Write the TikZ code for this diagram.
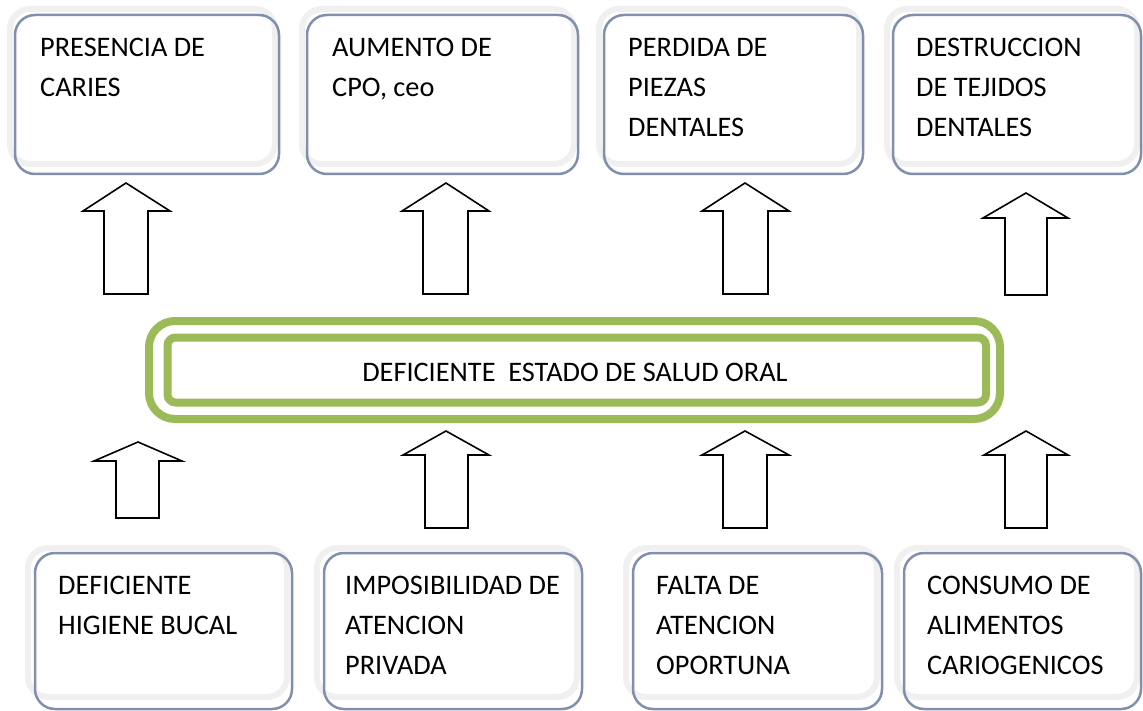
\documentclass[tikz,border=0pt]{standalone}
\usepackage{fontspec}
\setmainfont{Carlito}
\definecolor{boxgray}{HTML}{F0F0F0}
\definecolor{boxblue}{HTML}{8090AC}
\definecolor{olivegreen}{HTML}{9BBB59}

\begin{document}
\begin{tikzpicture}[x=1pt,y=-1pt,
  cardframe/.style={draw=boxgray,fill=white,line width=6pt,rounded corners=20pt},
  cardshadow/.style={draw=boxblue,line width=2.5pt,rounded corners=20pt},
  boxtext/.style={anchor=base west,align=left,inner sep=0pt,font=\fontsize{28.3}{40}\selectfont},
  blockarrow/.style={draw=black,fill=white,line width=1.6pt,line join=miter}]
\useasboundingbox (0,0) rectangle (1143,711);
\filldraw[cardframe] (10,9) rectangle (275,164);
\draw[cardshadow] (15,15) rectangle (279,174);
\filldraw[cardframe] (302,9) rectangle (574,164);
\draw[cardshadow] (307,15) rectangle (578,174);
\filldraw[cardframe] (599,9) rectangle (859,164);
\draw[cardshadow] (604,15) rectangle (863,174);
\filldraw[cardframe] (887,9) rectangle (1137,164);
\draw[cardshadow] (893,15) rectangle (1141,174);
\node[boxtext] (caries) at (40,97) {PRESENCIA DE\\CARIES};
\node[boxtext] (cpo) at (332,97) {AUMENTO DE\\CPO, ceo};
\node[boxtext] (perdida) at (628,137) {PERDIDA DE\\PIEZAS\\DENTALES};
\node[boxtext] (tejidos) at (916,137) {DESTRUCCION\\DE TEJIDOS\\DENTALES};
\draw[blockarrow] (104,294) -- (104,211) -- (83,211) -- (126,183) -- (170,211) -- (148,211) -- (148,294) -- cycle;
\draw[blockarrow] (423,294) -- (423,211) -- (402,211) -- (446,183) -- (489,211) -- (468,211) -- (468,294) -- cycle;
\draw[blockarrow] (723,294) -- (723,211) -- (702,211) -- (745,183) -- (789,211) -- (768,211) -- (768,294) -- cycle;
\draw[blockarrow] (1005,295) -- (1005,218) -- (983,218) -- (1026,193) -- (1068,218) -- (1047,218) -- (1047,295) -- cycle;
\draw[olivegreen,line width=8pt,rounded corners=26pt] (149,321) rectangle (1000,419);
\draw[olivegreen,line width=8pt,rounded corners=8pt] (167.5,337.5) rectangle (986,402.5);
\node[inner sep=0pt,font=\fontsize{28.3}{40}\selectfont] (salud) at (575,372) {DEFICIENTE~ ESTADO DE SALUD ORAL};
\draw[blockarrow] (116,518) -- (116,461) -- (94,461) -- (138,442) -- (182,461) -- (159,461) -- (159,518) -- cycle;
\draw[blockarrow] (425,528) -- (425,455) -- (403,455) -- (446,431) -- (489,455) -- (468,455) -- (468,528) -- cycle;
\draw[blockarrow] (723,528) -- (723,455) -- (702,455) -- (745,431) -- (789,455) -- (767,455) -- (767,528) -- cycle;
\draw[blockarrow] (1005,528) -- (1005,455) -- (984,455) -- (1026,431) -- (1068,455) -- (1047,455) -- (1047,528) -- cycle;
\filldraw[cardframe] (28,548) rectangle (287,697);
\draw[cardshadow] (35,553) rectangle (292,709);
\filldraw[cardframe] (317,548) rectangle (577,697);
\draw[cardshadow] (324,553) rectangle (582,709);
\filldraw[cardframe] (626,548) rectangle (877,697);
\draw[cardshadow] (633,553) rectangle (882,709);
\filldraw[cardframe] (897,548) rectangle (1137,697);
\draw[cardshadow] (904,553) rectangle (1141,709);
\node[boxtext] (higiene) at (58,634) {DEFICIENTE\\HIGIENE BUCAL};
\node[boxtext] (atencion) at (345,674) {IMPOSIBILIDAD DE\\ATENCION\\PRIVADA};
\node[boxtext] (oportuna) at (656,674) {FALTA DE\\ATENCION\\OPORTUNA};
\node[boxtext] (alimentos) at (927,674) {CONSUMO DE\\ALIMENTOS\\CARIOGENICOS};
\end{tikzpicture}
\end{document}
